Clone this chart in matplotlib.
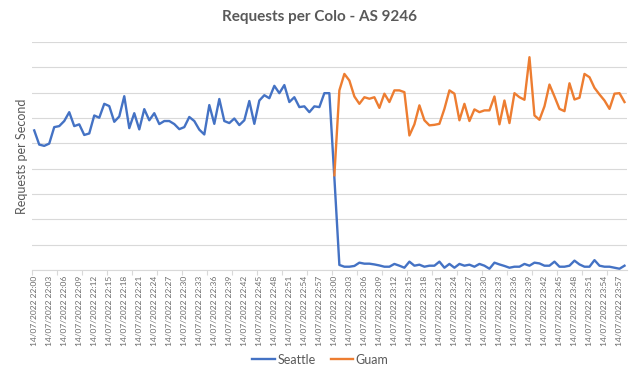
import pandas as pd
import matplotlib.pyplot as plt

# one point per minute, 22:00 .. 23:58
minutes = pd.date_range("2022-07-14 22:00", "2022-07-14 23:58", freq="min")
labels = [t.strftime("%d/%m/%Y %H:%M") for t in minutes]

seattle = [5.51, 4.95, 4.90, 4.99, 5.64, 5.68, 5.88, 6.23, 5.68, 5.75,
           5.33, 5.39, 6.10, 6.01, 6.56, 6.47, 5.85, 6.06, 6.86, 5.60,
           6.19, 5.55, 6.35, 5.91, 6.19, 5.76, 5.88, 5.88, 5.76, 5.56,
           5.64, 6.04, 5.88, 5.54, 5.35, 6.51, 5.77, 6.75, 5.88, 5.80,
           5.98, 5.72, 5.91, 6.67, 5.77, 6.69, 6.90, 6.78, 7.27, 6.98,
           7.30, 6.63, 6.82, 6.43, 6.46, 6.23, 6.46, 6.43, 6.98, 6.98,
           3.65,
           0.20, 0.13, 0.13, 0.16, 0.29, 0.25, 0.25, 0.22, 0.18, 0.13,
           0.13, 0.24, 0.17, 0.09, 0.33, 0.17, 0.21, 0.13, 0.17, 0.17,
           0.33, 0.09, 0.24, 0.09, 0.24, 0.17, 0.21, 0.13, 0.24, 0.17,
           0.05, 0.29, 0.22, 0.16, 0.09, 0.13, 0.13, 0.24, 0.17, 0.29,
           0.26, 0.17, 0.17, 0.33, 0.13, 0.13, 0.17, 0.37, 0.22, 0.13,
           0.13, 0.39, 0.17, 0.13, 0.13, 0.09, 0.05, 0.17]

guam = [None] * 60 + [
           3.74, 7.09, 7.74, 7.48, 6.85, 6.56, 6.82, 6.76, 6.82, 6.40,
           6.96, 6.63, 7.09, 7.09, 7.02, 5.31, 5.75, 6.50, 5.91, 5.71,
           5.73, 5.77, 6.36, 7.09, 6.96, 5.91, 6.56, 5.88, 6.34, 6.23,
           6.30, 6.30, 6.85, 5.75, 6.69, 5.80, 6.98, 6.82, 6.72, 8.40,
           6.10, 5.93, 6.46, 7.32, 6.85, 6.36, 6.27, 7.37, 6.73, 6.80,
           7.74, 7.61, 7.19, 6.93, 6.69, 6.36, 6.96, 6.98, 6.63]

df = pd.DataFrame({"Seattle": seattle, "Guam": guam}, index=labels).astype(float)

plt.rcParams['font.family'] = ['Lato', 'DejaVu Sans']
grey = "#595959"

fig = plt.figure(figsize=(6.37, 3.78), dpi=100)
ax = fig.add_axes([0.0498, 0.2857, 0.9345, 0.6032])

x = range(len(df))
ax.plot(x, df["Seattle"], color="#4472C4", lw=1.7, label="Seattle")
ax.plot(x, df["Guam"], color="#ED7D31", lw=1.7, label="Guam")

ax.set_xlim(-0.5, len(df) - 0.5)
ax.set_ylim(0, 9)
ax.set_yticks(range(0, 10))
ax.set_yticklabels([])
ax.tick_params(axis="y", length=0, pad=0)
ax.grid(axis="y", color="#D9D9D9", lw=0.8)
ax.set_axisbelow(True)

for s in ["top", "right", "left"]:
    ax.spines[s].set_visible(False)
ax.spines["bottom"].set_color("#D9D9D9")
ax.spines["bottom"].set_linewidth(0.8)

# labels every 3 minutes, tick marks every 5 categories
ax.set_xticks(list(range(0, len(df), 3)))
ax.set_xticklabels(labels[::3], rotation=90, fontsize=6, color="#6a6a6a")
ax.set_xticks([i - 0.5 for i in range(0, len(df) + 1, 5)], minor=True)
ax.tick_params(axis="x", which="major", length=0, pad=4)
ax.tick_params(axis="x", which="minor", length=3.5, color="#D9D9D9", width=0.8)

ax.set_ylabel("Requests per Second", fontsize=9, color=grey, labelpad=3)
fig.text(0.502, 0.955, "Requests per Colo - AS 9246", ha="center", va="center",
         fontsize=11, fontweight="bold", color=grey)

fig.legend(loc="center", bbox_to_anchor=(0.503, 0.048), ncol=2, frameon=False,
           fontsize=9, handlelength=1.8, handletextpad=0.2, columnspacing=1.2,
           labelcolor=grey)

fig.savefig("out.png", dpi=100)
